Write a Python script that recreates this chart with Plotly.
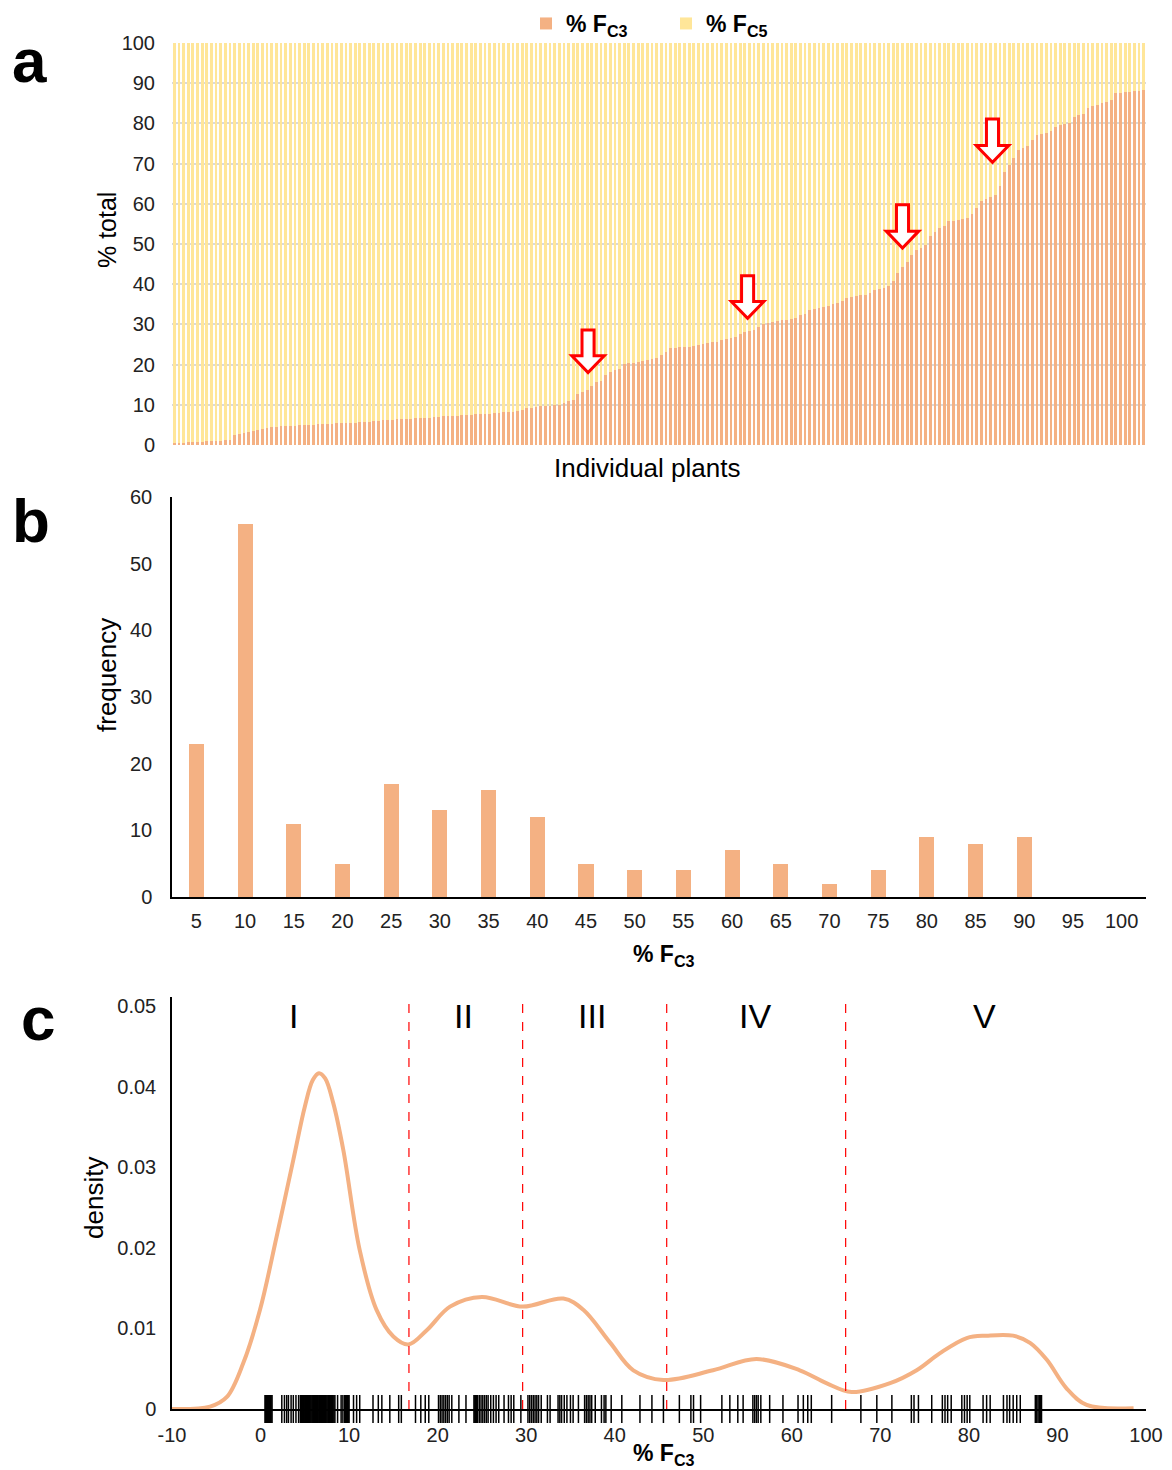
import plotly.graph_objects as go

W, H = 1172, 1470
OFF = 8  # page body margin offset

# ---------------- DATA ----------------
# % F_C3 of each individual plant, sorted (panel a and rug of panel c)
fc3_values = [
    0.5, 0.6, 0.6, 0.7, 0.7, 0.8, 0.8, 0.9, 0.9, 1.0, 1.1, 1.2, 1.3,
    2.4, 2.7, 2.95, 3.15, 3.45, 3.7, 4.0, 4.3,
    4.5, 4.6, 4.7, 4.75, 4.8, 4.85, 4.9,
    5.0, 5.05, 5.1, 5.15, 5.2, 5.25, 5.3, 5.35, 5.4, 5.45, 5.5, 5.55, 5.6, 5.7, 5.8, 5.9,
    6.0, 6.1, 6.2, 6.3, 6.35, 6.4, 6.45, 6.5, 6.6, 6.65, 6.7, 6.8, 6.9, 7.0,
    7.1, 7.15, 7.2, 7.3, 7.35, 7.4, 7.5, 7.6, 7.7, 7.75, 7.8, 7.9, 8.0, 8.1, 8.2, 8.3, 8.4,
    8.7, 9.1, 9.3, 9.5, 9.6, 9.7, 9.8, 9.9, 10.0,
    10.5, 10.85, 11.2, 12.7, 13.3, 13.7, 14.6, 15.6, 15.9, 17.5, 18.1, 18.6, 19.0,
    20.1, 20.3, 20.5, 20.7, 20.9, 21.1, 21.3, 21.6, 22.4, 23.2, 24.1, 24.2, 24.3, 24.4, 24.5, 24.7, 24.9,
    25.1, 25.3, 25.5, 25.7, 26.0, 26.3, 26.6, 26.9, 27.5, 28.0, 28.3, 28.6, 29.4,
    30.2, 30.4, 30.6, 30.8, 31.0, 31.2, 31.4, 31.7, 32.4, 32.7, 33.6, 33.8, 34.0, 34.3, 34.6, 35.0,
    35.3, 35.9, 36.6, 36.8, 37.0, 37.2, 37.4, 37.8, 38.5, 38.8, 39.0, 39.6,
    40.8, 42.85, 44.2, 45.5, 47.3, 48.6, 48.9, 49.7, 52.1, 53.0, 53.9, 54.5,
    55.6, 55.8, 56.0, 56.2, 56.5, 57.5, 59.0, 60.7, 61.3, 61.8, 62.2, 64.5,
    67.8, 69.6, 71.3, 73.5, 73.8, 74.3, 75.8, 77.0, 77.3, 77.6, 78.0, 79.2, 79.5, 79.8, 80.1,
    81.6, 82.0, 82.4, 83.9, 84.3, 84.6, 85.0, 85.4, 85.8, 87.5, 87.6, 87.7, 87.9, 88.0, 88.1, 88.2,
]
plant_index = list(range(len(fc3_values)))
fc5_values = [round(100 - v, 2) for v in fc3_values]

# Panel b histogram
hist_bins = ["5", "10", "15", "20", "25", "30", "35", "40", "45", "50",
             "55", "60", "65", "70", "75", "80", "85", "90", "95", "100"]
hist_counts = [23, 56, 11, 5, 17, 13, 16, 12, 5, 4, 4, 7, 5, 2, 4, 9, 8, 9, 0, 0]

# Panel c density curve
dens_x = [-10, -5.7, -3.8, -1.95, -0.06, 1.82, 3.7, 5.0, 5.9, 6.6, 7.3, 8.2, 9.35, 11.2, 13.1, 15.0,
          16.7, 18.8, 21.4, 25.0, 29.6, 34.2, 36.45, 39.5, 42.1, 45.5, 51.1, 56.0, 60.9, 63.9,
          66.75, 71.1, 74.1, 76.7, 79.75, 82.0, 85.0, 86.9, 88.8, 91.0, 93.3, 98.6]
dens_y = [0.0, 0.0003, 0.0015, 0.0057, 0.0123, 0.0214, 0.0309, 0.0375, 0.0408, 0.04165, 0.0410, 0.0380,
          0.0321, 0.0197, 0.0123, 0.0090, 0.0080, 0.0098, 0.0127, 0.0139, 0.0127, 0.0137, 0.0123, 0.0082,
          0.0048, 0.0036, 0.0048, 0.0062, 0.0048, 0.0032, 0.0021, 0.0032, 0.0048, 0.0069, 0.0088,
          0.0091, 0.0091, 0.0082, 0.0061, 0.0026, 0.0005, 0.0001]

cluster_bounds = [16.76, 29.6, 45.87, 66.08]
cluster_labels = ["I", "II", "III", "IV", "V"]
cluster_label_x = [3.7, 22.97, 37.4, 55.8, 81.8]

# arrows (panel a): plant index and arrow top / tip in % total
arrow_x = [89.2, 123.6, 157.0, 176.4]
arrow_top = [28.6, 42.1, 59.75, 81.1]
arrow_tip = [18.0, 31.5, 49.0, 70.3]

c_ticks = [-10, 0, 10, 20, 30, 40, 50, 60, 70, 80, 90, 100]

# ---------------- STYLE ----------------
ORANGE = "#F4B183"
YELLOW = "#FFE699"
FONT = "Liberation Sans, Arial, sans-serif"


def X(px):
    return (px - OFF) / W


def Y(py):
    return 1 - (py - OFF) / H


fig = go.Figure()

# Panel a
fig.add_trace(go.Bar(x=plant_index, y=fc3_values, marker_color=ORANGE, marker_line_width=0,
                     name="<b>% F<sub>C3</sub></b>", xaxis="x", yaxis="y"))
fig.add_trace(go.Bar(x=plant_index, y=fc5_values, marker_color=YELLOW, marker_line_width=0,
                     name="<b>% F<sub>C5</sub></b>", xaxis="x", yaxis="y"))

# Panel b
fig.add_trace(go.Bar(x=hist_bins, y=hist_counts, marker_color=ORANGE, marker_line_width=0,
                     showlegend=False, xaxis="x2", yaxis="y2", width=0.31))

# Panel c
fig.add_trace(go.Scatter(x=dens_x, y=dens_y, mode="lines",
                         line=dict(color=ORANGE, width=4, shape="spline", smoothing=1.0),
                         showlegend=False, xaxis="x3", yaxis="y3"))
fig.add_trace(go.Scatter(x=fc3_values, y=[0] * len(fc3_values), mode="markers",
                         marker=dict(symbol="line-ns", size=20, line=dict(color="black", width=1.5)),
                         showlegend=False, xaxis="x3", yaxis="y3", cliponaxis=False))

tickfont = dict(family=FONT, size=20, color="#222")

fig.update_layout(
    width=W, height=H, margin=dict(l=0, r=0, t=0, b=0, autoexpand=False),
    paper_bgcolor="white", plot_bgcolor="white",
    barmode="stack", bargap=0.4,
    font=dict(family=FONT, color="black"),
    legend=dict(orientation="h", x=X(526), y=Y(2), xanchor="left", yanchor="top",
                font=dict(family=FONT, size=23, color="black"), itemwidth=30, traceorder="normal",
                entrywidth=95, entrywidthmode="pixels",
                tracegroupgap=0, bgcolor="rgba(0,0,0,0)"),
    xaxis=dict(domain=[X(172), X(1146)], range=[-0.5, len(fc3_values) - 0.5], showticklabels=False,
               showgrid=False, zeroline=False, showline=False, ticks="", automargin=False),
    yaxis=dict(domain=[Y(445), Y(43)], range=[0, 100], dtick=10, showgrid=True, gridcolor="#D9D9D9",
               gridwidth=1.5, zeroline=False, showline=False, ticks="", tickfont=tickfont,
               ticklabelstandoff=16, automargin=False),
    xaxis2=dict(domain=[X(172), X(1146)], anchor="y2", type="category", showline=True, linecolor="black",
                linewidth=1.5, ticks="", tickfont=tickfont, showgrid=False, ticklabelstandoff=5,
                automargin=False),
    yaxis2=dict(domain=[Y(897), Y(497)], anchor="x2", range=[0, 60], dtick=10, showline=True, linecolor="black",
                linewidth=1.5, ticks="", tickfont=tickfont, showgrid=False, zeroline=False,
                ticklabelstandoff=14, automargin=False),
    xaxis3=dict(domain=[X(172), X(1146)], anchor="y3", range=[-10, 100], tickvals=c_ticks,
                ticktext=[str(t) for t in c_ticks], showline=True,
                linecolor="black", linewidth=1.5, ticks="", tickfont=tickfont, showgrid=False,
                zeroline=False, ticklabelstandoff=7, automargin=False),
    yaxis3=dict(domain=[Y(1409), Y(997)], anchor="x3", range=[0, 0.0511], tickvals=[0, 0.01, 0.02, 0.03, 0.04, 0.05],
                ticktext=["0", "0.01", "0.02", "0.03", "0.04", "0.05"], showline=True, linecolor="black",
                linewidth=1.5, ticks="", tickfont=tickfont, showgrid=False, zeroline=False,
                ticklabelstandoff=10, automargin=False),
)

# arrows in panel a
shaft_half = 1.3   # in plant units
head_half = 3.5
for ax, top, tip in zip(arrow_x, arrow_top, arrow_tip):
    head_base = tip + 4.2
    path = (f"M {ax - shaft_half} {top} L {ax + shaft_half} {top} L {ax + shaft_half} {head_base} "
            f"L {ax + head_half} {head_base} L {ax} {tip} L {ax - head_half} {head_base} "
            f"L {ax - shaft_half} {head_base} Z")
    fig.add_shape(type="path", path=path, xref="x", yref="y", line=dict(color="#FF0000", width=3),
                  fillcolor="white")

# dashed boundaries in panel c
for b in cluster_bounds:
    fig.add_shape(type="line", x0=b, x1=b, y0=0, y1=0.0505, xref="x3", yref="y3",
                  line=dict(color="#FF0000", width=1.2, dash="dash"))

for lab, lx in zip(cluster_labels, cluster_label_x):
    fig.add_annotation(x=lx, y=0.0488, xref="x3", yref="y3", text=lab, showarrow=False,
                       font=dict(family=FONT, size=34, color="black"))


# axis titles & panel letters
def ann(text, px, py, size, bold=False, angle=0):
    fig.add_annotation(x=X(px), y=Y(py), xref="paper", yref="paper", text=(f"<b>{text}</b>" if bold else text),
                       showarrow=False, textangle=angle, font=dict(family=FONT, size=size, color="black"),
                       xanchor="center", yanchor="middle")


ann("% total", 107, 230, 25, angle=-90)
ann("Individual plants", 647, 468, 26)
ann("frequency", 107, 675, 26, angle=-90)
ann("% F<sub>C3</sub>", 664, 955, 23, bold=True)
ann("density", 94, 1198, 26, angle=-90)
ann("% F<sub>C3</sub>", 664, 1454, 23, bold=True)

ann("a", 29, 60, 62, bold=True)
ann("b", 31, 520, 62, bold=True)
ann("c", 38, 1018, 62, bold=True)

fig.write_html("out.html")
